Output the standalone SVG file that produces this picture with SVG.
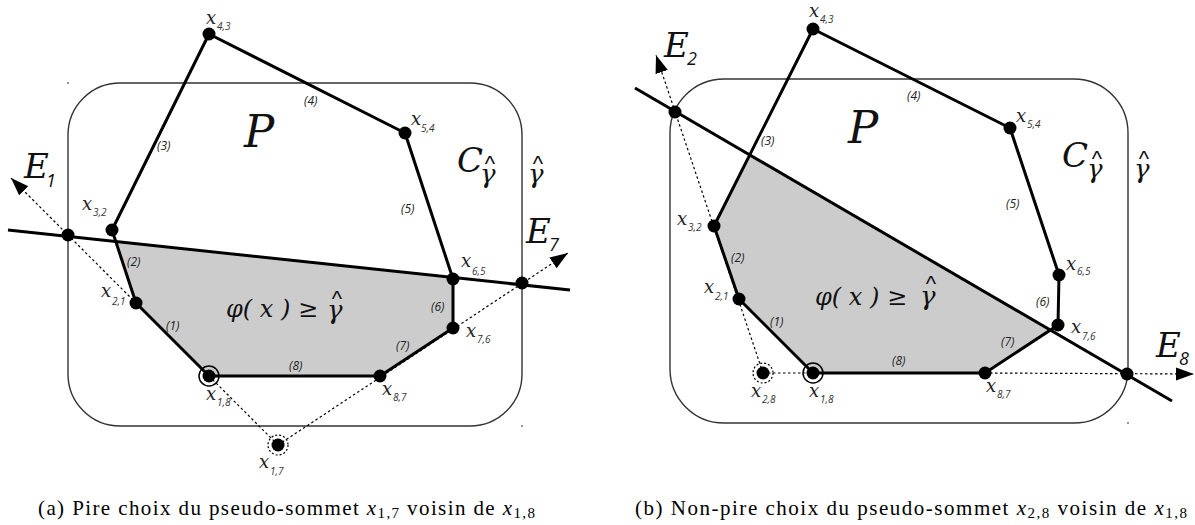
<svg xmlns="http://www.w3.org/2000/svg" width="1195" height="525" viewBox="0 0 1195 525">
<style>
.frame{fill:none;stroke:#333;stroke-width:1.4}
.shade{fill:#cccccc;stroke:none}
.edge{fill:none;stroke:#000;stroke-width:3;stroke-linejoin:round}
.cut{stroke:#000;stroke-width:3;fill:none}
.dotted{stroke:#000;stroke-width:1.2;stroke-dasharray:2.5 2.5;fill:none}
.dot{fill:#000}
.ring{fill:none;stroke:#000;stroke-width:1.5}
.dring{fill:none;stroke:#000;stroke-width:1.2;stroke-dasharray:2 2}
.tiny{fill:#666}
.vx{font-family:"DejaVu Serif",serif;font-style:italic;font-size:18px;fill:#222}
.sub{font-family:"Open Sans",sans-serif;font-style:italic;font-size:10px;fill:#333}
.el{font-family:"Open Sans",sans-serif;font-style:italic;font-size:12px;fill:#222}
.big{font-family:"DejaVu Serif",serif;font-style:italic;fill:#111}
.bsub{font-family:"Open Sans",sans-serif;font-style:italic;font-size:18px;fill:#111}
.gam{font-family:"DejaVu Serif",serif;font-style:italic;font-size:26px;fill:#111}
.hat{font-family:"Liberation Sans",sans-serif;font-size:22px;fill:#111;text-anchor:middle}
.form{font-family:"DejaVu Serif",serif;font-style:italic;font-size:24px;fill:#111}
.cap{font-family:"Liberation Serif",serif;font-size:21px;fill:#000}
</style>
<defs>
<marker id="arr" markerUnits="userSpaceOnUse" markerWidth="20" markerHeight="14" refX="18" refY="6.5" orient="auto">
<path d="M0,0 L18,6.5 L0,13 z" fill="#000"/>
</marker>
</defs>

<!-- ===== Panel (a) ===== -->
<g id="panel-a">
<rect class="frame" x="68" y="83" width="454" height="343" rx="52" ry="52"/>
<polygon class="shade" points="115.8,241.5 453,277.5 453,328 380,376 209,376 136,303"/>
<circle class="tiny" cx="68" cy="83" r="0.9"/>
<circle class="tiny" cx="522" cy="426" r="0.9"/>
</g>

<g id="connectors-a">
<polygon class="edge" points="209,376 136,303 112,230 209,34 405,133 453,279 453,328 380,376"/>
<line class="cut" x1="8" y1="230" x2="570" y2="290"/>
<line class="dotted" x1="278" y1="445" x2="11" y2="178" marker-end="url(#arr)"/>
<line class="dotted" x1="278" y1="445" x2="568" y2="253" marker-end="url(#arr)"/>
</g>

<g id="a-labels">
<text class="big" x="244" y="147" font-size="45">P</text>
<g id="a-C"><text class="big" x="457" y="172" font-size="34">C</text><text class="gam" x="480" y="183">γ</text><text class="hat" x="490" y="171">^</text></g>
<g id="a-gamma"><text class="gam" x="528" y="183">γ</text><text class="hat" x="538" y="171">^</text></g>
<g id="a-E1"><text class="big" x="24" y="178" font-size="34">E</text><text class="bsub" x="46" y="187">1</text></g>
<g id="a-E7"><text class="big" x="526" y="243" font-size="34">E</text><text class="bsub" x="549" y="251">7</text></g>
<g id="a-formula"><text class="form" x="226" y="317">φ( x ) <tspan font-style="normal">≥</tspan></text><text class="gam" x="327" y="319" font-size="25">γ</text><text class="hat" x="337" y="306">^</text></g>
<text class="el" x="157" y="150">(3)</text>
<text class="el" x="304" y="105">(4)</text>
<text class="el" x="401" y="213">(5)</text>
<text class="el" x="127" y="266">(2)</text>
<text class="el" x="166" y="330">(1)</text>
<text class="el" x="431" y="311">(6)</text>
<text class="el" x="396" y="350">(7)</text>
<text class="el" x="289" y="370">(8)</text>
</g>

<g id="a-x43"><circle class="dot" cx="209" cy="34" r="6.5"/><text class="vx" x="206" y="24">x</text><text class="sub" x="217" y="30">4,3</text></g>
<g id="a-x54"><circle class="dot" cx="405" cy="133" r="6.5"/><text class="vx" x="411" y="125">x</text><text class="sub" x="421" y="132">5,4</text></g>
<g id="a-x32"><circle class="dot" cx="112" cy="230" r="6.5"/><text class="vx" x="82" y="210">x</text><text class="sub" x="93" y="216">3,2</text></g>
<g id="a-x21"><circle class="dot" cx="136" cy="303" r="6.5"/><text class="vx" x="101" y="297">x</text><text class="sub" x="112" y="305">2,1</text></g>
<g id="a-x18"><circle class="ring" cx="209" cy="376" r="10"/><circle class="dot" cx="209" cy="376" r="6.5"/><text class="vx" x="206" y="400">x</text><text class="sub" x="217" y="406">1,8</text></g>
<g id="a-x17"><circle class="dring" cx="278" cy="445" r="10"/><circle class="dot" cx="278" cy="445" r="6.5"/><text class="vx" x="259" y="468">x</text><text class="sub" x="270" y="475">1,7</text></g>
<g id="a-x65"><circle class="dot" cx="453" cy="279" r="6.5"/><text class="vx" x="461" y="267">x</text><text class="sub" x="472" y="275">6,5</text></g>
<g id="a-x76"><circle class="dot" cx="453" cy="328" r="6.5"/><text class="vx" x="466" y="337">x</text><text class="sub" x="477" y="343">7,6</text></g>
<g id="a-x87"><circle class="dot" cx="380" cy="376" r="6.5"/><text class="vx" x="382" y="395">x</text><text class="sub" x="393" y="401">8,7</text></g>
<g id="a-E1pt"><circle class="dot" cx="68" cy="235" r="6.5"/></g>
<g id="a-E7pt"><circle class="dot" cx="522" cy="283" r="6.5"/></g>

<!-- ===== Panel (b) ===== -->
<g id="panel-b">
<rect class="frame" x="670" y="79" width="458" height="344" rx="54" ry="54"/>
<polygon class="shade" points="749.6,155.2 1050.6,329.8 985,373 813,373 739,299 714,226"/>
<circle class="tiny" cx="1128" cy="423" r="0.9"/>
</g>

<g id="connectors-b">
<polygon class="edge" points="813,373 739,299 714,226 813,29 1010,128 1059,275 1058,325 985,373"/>
<line class="cut" x1="635" y1="88" x2="1172" y2="401"/>
<line class="dotted" x1="763" y1="373" x2="656" y2="55" marker-end="url(#arr)"/>
<line class="dotted" x1="763" y1="373" x2="813" y2="373"/>
<line class="dotted" x1="985" y1="373" x2="1194" y2="374" marker-end="url(#arr)"/>
</g>

<g id="b-labels">
<text class="big" x="848" y="143" font-size="45">P</text>
<g id="b-C"><text class="big" x="1062" y="167" font-size="34">C</text><text class="gam" x="1087" y="178" font-size="25">γ</text><text class="hat" x="1097" y="166">^</text></g>
<g id="b-gamma"><text class="gam" x="1134" y="178" font-size="25">γ</text><text class="hat" x="1144" y="166">^</text></g>
<g id="b-E2"><text class="big" x="664" y="57" font-size="34">E</text><text class="bsub" x="687" y="65">2</text></g>
<g id="b-E8"><text class="big" x="1156" y="357" font-size="34">E</text><text class="bsub" x="1179" y="365">8</text></g>
<g id="b-formula"><text class="form" x="815" y="305">φ( x ) <tspan font-style="normal">≥</tspan></text><text class="gam" x="920" y="305" font-size="25">γ</text><text class="hat" x="931" y="291">^</text></g>
<text class="el" x="761" y="145">(3)</text>
<text class="el" x="907" y="100">(4)</text>
<text class="el" x="1006" y="208">(5)</text>
<text class="el" x="731" y="262">(2)</text>
<text class="el" x="770" y="326">(1)</text>
<text class="el" x="1036" y="306">(6)</text>
<text class="el" x="1001" y="346">(7)</text>
<text class="el" x="892" y="365">(8)</text>
</g>

<g id="b-x43"><circle class="dot" cx="813" cy="29" r="6.5"/><text class="vx" x="809" y="17">x</text><text class="sub" x="820" y="23">4,3</text></g>
<g id="b-x54"><circle class="dot" cx="1010" cy="128" r="6.5"/><text class="vx" x="1016" y="122">x</text><text class="sub" x="1027" y="128">5,4</text></g>
<g id="b-x32"><circle class="dot" cx="714" cy="226" r="6.5"/><text class="vx" x="677" y="225">x</text><text class="sub" x="688" y="231">3,2</text></g>
<g id="b-x21"><circle class="dot" cx="739" cy="299" r="6.5"/><text class="vx" x="704" y="293">x</text><text class="sub" x="715" y="300">2,1</text></g>
<g id="b-x28"><circle class="dring" cx="763" cy="373" r="10"/><circle class="dot" cx="763" cy="373" r="6.5"/><text class="vx" x="751" y="397">x</text><text class="sub" x="762" y="403">2,8</text></g>
<g id="b-x18"><circle class="ring" cx="813" cy="373" r="10"/><circle class="dot" cx="813" cy="373" r="6.5"/><text class="vx" x="809" y="397">x</text><text class="sub" x="820" y="403">1,8</text></g>
<g id="b-x87"><circle class="dot" cx="985" cy="373" r="6.5"/><text class="vx" x="986" y="392">x</text><text class="sub" x="997" y="398">8,7</text></g>
<g id="b-x76"><circle class="dot" cx="1058" cy="325" r="6.5"/><text class="vx" x="1071" y="333">x</text><text class="sub" x="1082" y="340">7,6</text></g>
<g id="b-x65"><circle class="dot" cx="1059" cy="275" r="6.5"/><text class="vx" x="1066" y="270">x</text><text class="sub" x="1077" y="275">6,5</text></g>
<g id="b-E2pt"><circle class="dot" cx="675" cy="112" r="6.5"/></g>
<g id="b-E8pt"><circle class="dot" cx="1127" cy="374" r="6.5"/></g>

<!-- captions -->
<text class="cap" x="38" y="515" textLength="497">(a) Pire choix du pseudo-sommet <tspan font-style="italic">x</tspan><tspan font-size="15" dy="3">1,7</tspan><tspan dy="-3"> voisin de </tspan><tspan font-style="italic">x</tspan><tspan font-size="15" dy="3">1,8</tspan></text>
<text class="cap" x="635" y="515" textLength="552">(b) Non-pire choix du pseudo-sommet <tspan font-style="italic">x</tspan><tspan font-size="15" dy="3">2,8</tspan><tspan dy="-3"> voisin de </tspan><tspan font-style="italic">x</tspan><tspan font-size="15" dy="3">1,8</tspan></text>
</svg>
